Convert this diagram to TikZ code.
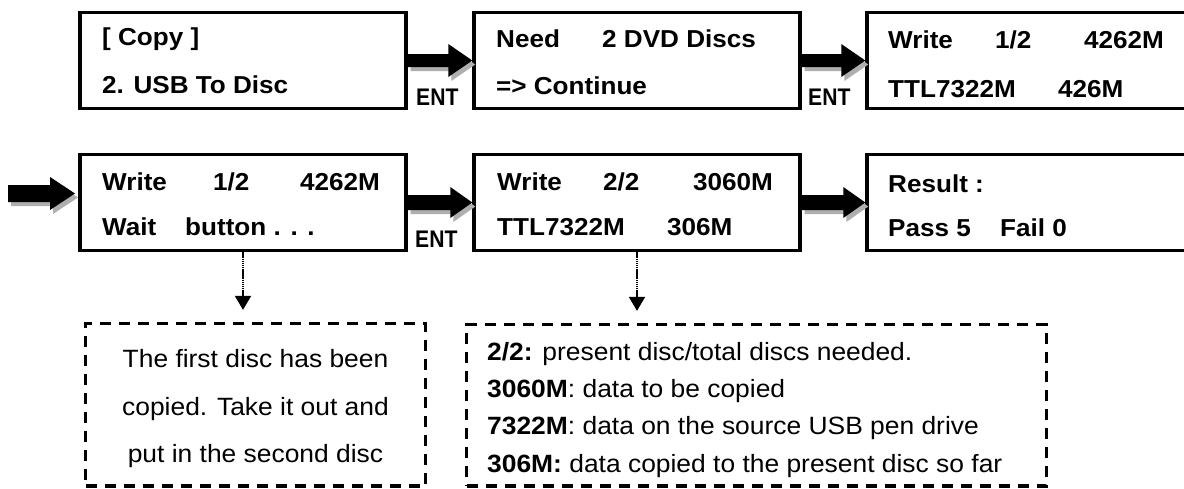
\documentclass[tikz,border=0pt]{standalone}
\usepackage{fontspec}
\setmainfont{Liberation Sans}
\usepackage{graphicx}
\usetikzlibrary{arrows.meta,calc}
\newcommand\strx[1]{\scalebox{1.065}[1]{#1}}
\newcommand\strr[1]{\scalebox{1.056}[1]{#1}}
\definecolor{shadowgray}{RGB}{175,175,175}
\tikzset{
 lcd/.style={draw, line width=3.4pt, minimum width=326pt, minimum height=96pt, inner sep=0pt},
 note/.style={draw, line width=3.3pt, dash pattern=on 11pt off 8pt, inner sep=0pt},
 ltx/.style={anchor=base west, inner sep=0pt, font=\fontsize{24.5}{28}\selectfont\bfseries},
 enttx/.style={anchor=base west, inner sep=0pt, font=\fontsize{24}{26}\selectfont\bfseries},
 ntx/.style={anchor=base west, inner sep=0pt, font=\fontsize{25}{28}\selectfont},
 ctx/.style={anchor=base, inner sep=0pt, font=\fontsize{25}{28}\selectfont},
 dots/.style={line width=2pt, dash pattern=on 1.5pt off 0.6pt, shorten >=12pt, -{Triangle[width=16pt,length=14pt]}},
}
% #1 start, #2 end, #3 shaft half, #4 head half, #5 head length
\newcommand\blockarr[5]{%
 \fill[shadowgray] let \p1=(#1), \p2=(#2) in
  (\x1+3pt,\y2+#3pt-4pt) -- (\x2-#5pt+3pt,\y2+#3pt-4pt) -- (\x2-#5pt+3pt,\y2+#4pt-4pt) -- (\x2+3pt,\y2-4pt)
  -- (\x2-#5pt+3pt,\y2-#4pt-4pt) -- (\x2-#5pt+3pt,\y2-#3pt-4pt) -- (\x1+3pt,\y2-#3pt-4pt) -- cycle;
 \fill[black] let \p1=(#1), \p2=(#2) in
  (\x1,\y2+#3pt) -- (\x2-#5pt,\y2+#3pt) -- (\x2-#5pt,\y2+#4pt) -- (\x2,\y2)
  -- (\x2-#5pt,\y2-#4pt) -- (\x2-#5pt,\y2-#3pt) -- (\x1,\y2-#3pt) -- cycle;
}
\begin{document}
\begin{tikzpicture}[x=1pt,y=-1pt]
\useasboundingbox (0,0) rectangle (1184,488);
\clip (0,0) rectangle (1184,488);
\fill[white] (0,0) rectangle (1184,488);

% LCD boxes
\node[lcd] (b1) at (243,60.5) {};
\node[lcd] (b2) at (637,60.5) {};
\node[lcd, minimum width=400pt] (b3) at (1067,60.5) {};
\node[lcd] (b4) at (243,202.5) {};
\node[lcd] (b5) at (637,202.5) {};
\node[lcd, minimum width=400pt] (b6) at (1067,202.5) {};

% texts in LCD boxes
\node[ltx] (t1a) at (102,45) {\strx{[ Copy ]}};
\node[ltx] (t1b) at (102,93) {\strx{2. USB To Disc}};
\node[ltx] (t2a) at (496,47) {\strx{Need}};
\node[ltx] (t2b) at (602,47) {\strx{2 DVD Discs}};
\node[ltx] (t2c) at (496,94) {\strx{=> Continue}};
\node[ltx] (t3a) at (888,48) {\strx{Write}};
\node[ltx] (t3b) at (995,48) {\strx{1/2}};
\node[ltx] (t3c) at (1084,48) {\strx{4262M}};
\node[ltx] (t3d) at (888,97) {\strx{TTL7322M}};
\node[ltx] (t3e) at (1058,97) {\strx{426M}};
\node[ltx] (t4a) at (102,190) {\strx{Write}};
\node[ltx] (t4b) at (213,190) {\strx{1/2}};
\node[ltx] (t4c) at (300,190) {\strx{4262M}};
\node[ltx] (t4d) at (102,235) {\strx{Wait}};
\node[ltx] (t4e) at (185,235) {\strx{button . . .}};
\node[ltx] (t5a) at (497,190) {\strx{Write}};
\node[ltx] (t5b) at (603,190) {\strx{2/2}};
\node[ltx] (t5c) at (693,190) {\strx{3060M}};
\node[ltx] (t5d) at (497,235) {\strx{TTL7322M}};
\node[ltx] (t5e) at (667,235) {\strx{306M}};
\node[ltx] (t6a) at (888,192) {\strx{Result :}};
\node[ltx] (t6b) at (888,236) {\strx{Pass 5}};
\node[ltx] (t6c) at (1000,236) {\strx{Fail 0}};

% ENT labels
\node[enttx] (e1) at (416,105) {\scalebox{0.88}[1]{ENT}};
\node[enttx] (e2) at (808,105) {\scalebox{0.88}[1]{ENT}};
\node[enttx] (e3) at (415,247) {\scalebox{0.88}[1]{ENT}};

% block arrows
\blockarr{b1.east}{b2.west}{6.5}{16.5}{24}
\blockarr{b2.east}{b3.west}{6.5}{16.5}{24}
\coordinate (la) at (8,193.5);
\coordinate (lb) at (75,193.5);
\blockarr{la}{lb}{8.5}{16.5}{25}
\blockarr{b4.east}{b5.west}{7.5}{15.5}{22}
\blockarr{b5.east}{b6.west}{7.5}{15.5}{22}

% note boxes
\node[note, minimum width=340pt, minimum height=162.5pt] (n1) at (255.5,404.75) {};
\node[note, minimum width=580pt, minimum height=161.5pt] (n2) at (756.5,405.25) {};

\draw[dots] (b4.south) -- (b4.south |- n1.north);
\draw[dots] (b5.south) -- (b5.south |- n2.north);

% note texts
\node[ctx] (m1) at (255.5,367) {\strr{The first disc has been}};
\node[ctx] (m2) at (255.5,415) {\strr{copied. Take it out and}};
\node[ctx] (m3) at (255.5,462) {\strr{put in the second disc}};

\node[ntx] (r1) at (487,360) {\strr{\textbf{2/2:} present disc/total discs needed.}};
\node[ntx] (r2) at (487,397) {\strr{\textbf{3060M}: data to be copied}};
\node[ntx] (r3) at (487,434) {\strr{\textbf{7322M}: data on the source USB pen drive}};
\node[ntx] (r4) at (487,472) {\strr{\textbf{306M:} data copied to the present disc so far}};
\end{tikzpicture}
\end{document}
